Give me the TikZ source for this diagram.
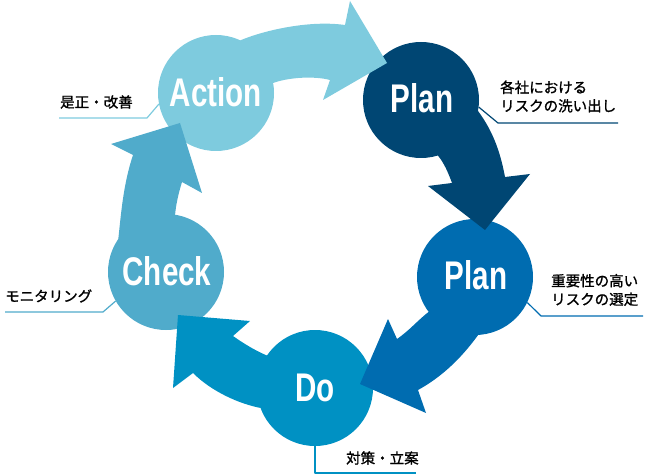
\documentclass[tikz,border=0pt]{standalone}
\usepackage{fontspec}
\newfontfamily\jpfont[FakeBold=1.2]{Noto Sans CJK JP}
\newfontfamily\stagefont[FakeStretch=0.74]{Liberation Sans}
\definecolor{actioncol}{RGB}{126,203,222}
\definecolor{planAcol}{RGB}{0,70,115}
\definecolor{planBcol}{RGB}{0,108,176}
\definecolor{docol}{RGB}{0,145,195}
\definecolor{checkcol}{RGB}{80,171,203}
\begin{document}
\begin{tikzpicture}[x=1pt, y=-1pt, line join=round]
	\tikzset{stage/.style={circle, minimum size=116pt, inner sep=0pt},
		stagetext/.style={text=white, font=\stagefont\bfseries\fontsize{40}{40}\selectfont},
		lbl/.style={font=\jpfont\fontsize{14.5}{18.5}\selectfont, inner sep=0pt, align=left, anchor=west},
		leader/.style={line width=1.2pt}}
	\useasboundingbox (0,0) rectangle (646,476);
	% circles
	\node[stage, fill=actioncol] (action) at (216,93) {};
	\node[stage, fill=planAcol] (planA) at (421,100) {};
	\node[stage, fill=planBcol] (planB) at (475,277) {};
	\node[stage, fill=docol] (dostage) at (315,388) {};
	\node[stage, fill=checkcol] (check) at (166,272) {};
	% arrows
	\fill[actioncol] (action.65) .. controls (265,30) and (310,20) .. (345,25)
		-- (350,1) -- (387,63) -- (323,100) -- (330,80)
		.. controls (315,76) and (290,77) .. (action.10) -- (action.center) -- cycle;
	\fill[planAcol] (planA.-11) .. controls (492,130) and (500,150) .. (505,177)
		-- (530,174) -- (485,230) -- (428,186) -- (452,183)
		.. controls (448,172) and (444,163) .. (planA.-73) -- (planA.center) -- cycle;
	\fill[planBcol] (planB.-87) .. controls (460,360) and (440,378) .. (418,390)
		-- (426,413) -- (360,384) -- (388,319) -- (397,339)
		.. controls (410,330) and (418,320) .. (planB.217) -- (planB.center) -- cycle;
	\fill[docol] (dostage.200) .. controls (240,404) and (212,392) .. (193,373)
		-- (173,388) -- (178,315) -- (250,321) -- (233,336)
		.. controls (243,343) and (254,350) .. (dostage.146) -- (dostage.center) -- cycle;
	\fill[checkcol] (check.145) .. controls (121,215) and (123,185) .. (133,155)
		-- (111,144) -- (180,123) -- (202,193) -- (182,182)
		.. controls (178,195) and (176,205) .. (check.81) -- (check.center) -- cycle;
	% stage names
	\node[stagetext] (actiontext) at (216,92) {Action};
	\node[stagetext] (planAtext) at (422,98) {Plan};
	\node[stagetext] (planBtext) at (476,275) {Plan};
	\node[stagetext] (dotext) at (315,388) {Do};
	\node[stagetext] (checktext) at (167,271) {Check};
	% labels
	\draw[leader, actioncol] (action.191) -- (147,118) -- (59,118);
	\node[lbl] (actionlbl) at (60,102) {是正・改善};
	\draw[leader, planAcol] (planA.-7) -- (498,123) -- (618,123);
	\node[lbl] (planAlbl) at (500,96.5) {各社における\\リスクの洗い出し};
	\draw[leader, planBcol] (planB.-26) -- (541,316) -- (643,316);
	\node[lbl] (planBlbl) at (551,290) {重要性の高い\\リスクの選定};
	\draw[leader, docol] (dostage.-90) -- (315,473) -- (416,473);
	\node[lbl] (dolbl) at (346,458) {対策・立案};
	\draw[leader, checkcol] (check.210) -- (103,312) -- (5,312);
	\node[lbl] (checklbl) at (5,296) {モニタリング};
\end{tikzpicture}
\end{document}
